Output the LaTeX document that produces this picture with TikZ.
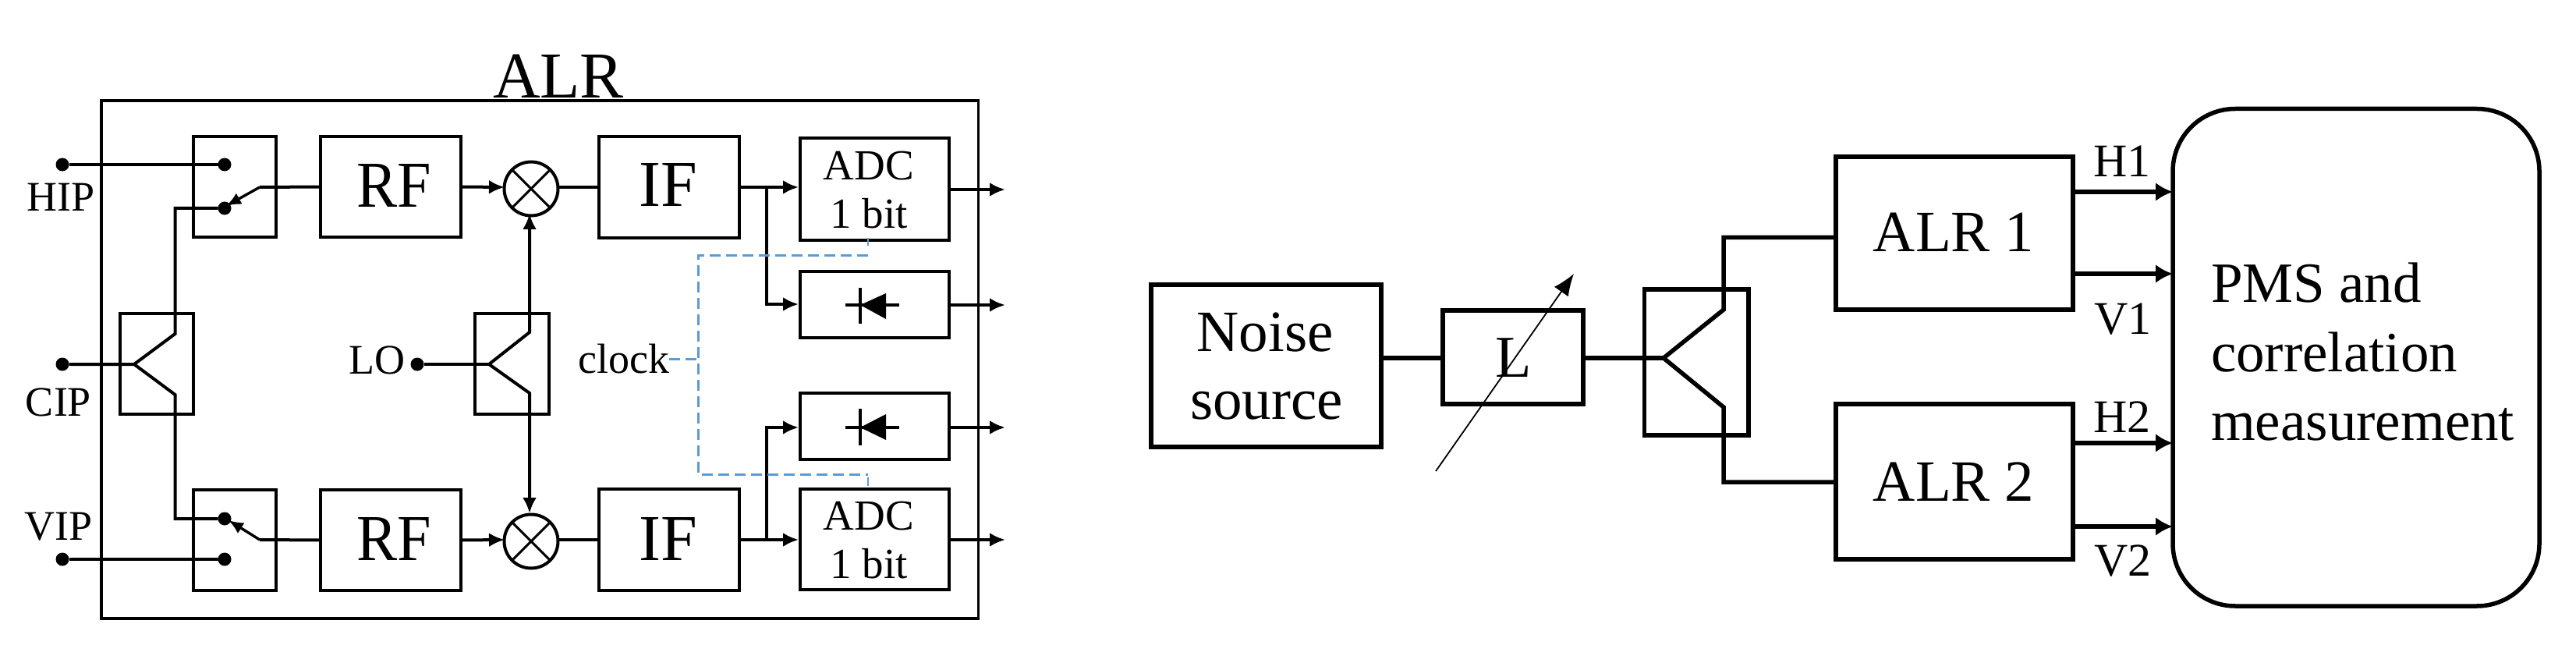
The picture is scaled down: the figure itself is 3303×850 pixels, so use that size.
\documentclass[tikz,border=0pt]{standalone}
\usepackage{fontspec}
\setmainfont{Liberation Serif}
\usetikzlibrary{arrows.meta,calc}
\newcommand{\fsz}[1]{\fontsize{#1pt}{#1pt}\selectfont}
% \bxn{name}{x1}{y1}{x2}{y2}{style}
\newcommand{\bxn}[6]{%
  \pgfmathsetmacro{\bw}{#4-#2}\pgfmathsetmacro{\bh}{#5-#3}%
  \pgfmathsetmacro{\bx}{(#2+#4)/2}\pgfmathsetmacro{\by}{(#3+#5)/2}%
  \node[#6,minimum width=\bw pt,minimum height=\bh pt] (#1) at (\bx,\by) {};}
% \tx{name}{x}{baseline}{size}{text}
\newcommand{\tx}[5]{\node[txt,font=\fsz{#4}] (#1) at (#2,#3) {#5};}
\tikzset{
  box/.style={draw=black,line width=4pt,inner sep=0pt,outer sep=0pt,rectangle},
  bigbox/.style={box,line width=5.5pt},
  frame/.style={box,line width=3.2pt},
  txt/.style={anchor=base,inner sep=0pt,outer sep=0pt,text=black},
  wire/.style={draw=black,line width=4pt,line join=miter},
  thick wire/.style={draw=black,line width=5.5pt,line join=miter},
  arr/.style={wire,-{Latex[length=20pt,width=18pt]}},
  sarr/.style={wire,line width=3.4pt,-{Latex[length=19pt,width=16pt]}},
  bigarr/.style={thick wire,-{Latex[length=22pt,width=24pt]}},
  clk/.style={draw=clkblue,line width=3pt,dash pattern=on 14pt off 7pt},
  clksolid/.style={draw=clkblue,line width=2.4pt},
  dot/.style={circle,fill=black,draw=none,inner sep=0pt,outer sep=0pt,minimum size=17pt},
  mixer/.style={circle,draw=black,line width=4pt,inner sep=0pt,outer sep=0pt,minimum size=69pt},
}
\definecolor{clkblue}{HTML}{5B9BD5}
\begin{document}
\begin{tikzpicture}[x=1pt,y=-1pt]
\useasboundingbox (0,0) rectangle (3303,850);

%% ---------- left: ALR ----------
\bxn{frame}{130}{129}{1254.5}{793}{frame}
\tx{alrt}{716}{126}{84}{ALR}

\bxn{sw1}{248}{175}{354}{304}{box}
\bxn{sw2}{248}{628}{354}{757}{box}
\bxn{rf1}{411}{175}{591}{304}{box}
\bxn{rf2}{411}{628}{591}{757}{box}
\tx{rf1t}{505.5}{266}{84}{\scalebox{0.93}[1]{RF}}
\tx{rf2t}{505.5}{718}{84}{\scalebox{0.93}[1]{RF}}
\bxn{if1}{768}{175}{948}{305}{box}
\bxn{if2}{768}{627}{948}{757}{box}
\tx{if1t}{857}{265}{84}{IF}
\tx{if2t}{857}{718}{84}{IF}
\bxn{adc1}{1026}{177}{1217}{308}{box}
\bxn{adc2}{1026}{627}{1217}{756}{box}
\tx{adc1a}{1114}{231}{55}{ADC}
\tx{adc1b}{1114}{293}{55}{1 bit}
\tx{adc2a}{1114}{679}{55}{ADC}
\tx{adc2b}{1114}{741}{55}{1 bit}
\bxn{det1}{1026}{348}{1217}{433}{box}
\bxn{det2}{1026}{504}{1217}{589}{box}
\bxn{spa}{154}{402}{248}{531}{box}
\bxn{spb}{609}{402}{703.5}{531}{box}
\node[mixer] (mix1) at (681,242) {};
\node[mixer] (mix2) at (681,694) {};
\foreach \m in {mix1,mix2}{
  \draw[line width=3pt] (\m.45) -- (\m.225) (\m.135) -- (\m.315);
}

\tx{hip}{78}{271}{54}{HIP}
\tx{cip}{75}{533}{54}{CIP}
\tx{vip}{75}{692}{54}{VIP}
\tx{lo}{483}{479}{54}{LO}
\tx{clockt}{800}{478}{54}{clock}

\node[dot] (dhip) at (80,211) {};
\node[dot] (dcip) at (80,467) {};
\node[dot] (dvip) at (80,717) {};
\node[dot] (dlo) at (535,467) {};
\node[dot] (s1a) at (288,211) {};
\node[dot] (s1b) at (288,267) {};
\node[dot] (s2a) at (288,665) {};
\node[dot] (s2b) at (288,717) {};

\coordinate (p1) at (333,240);
\coordinate (p2) at (333,692);
\coordinate (p1t) at (290,264);
\coordinate (p2t) at (293,667);
\coordinate (apa) at (172,467);
\coordinate (apau) at (224.5,428);
\coordinate (apad) at (224.5,506);
\coordinate (apb) at (627,467);
\coordinate (apbu) at (679,426);
\coordinate (apbd) at (679,504);
\coordinate (m1tip) at (679,274);
\coordinate (m2tip) at (679,658);

\draw[wire] (dhip) -- (s1a);
\draw[wire] (dvip) -- (s2b);
\draw[wire] (dcip) -- (apa) -- (apau) |- (s1b);
\draw[wire] (apa) -- (apad) |- (s2a);
\draw[wire] (dlo) -- (apb);
\draw[wire] (rf1.west) -- (p1);
\draw[wire] (rf2.west) -- (p2);
\draw[sarr] (p1) -- (p1t);
\draw[sarr] (p2) -- (p2t);
\draw[arr] (rf1.east) -- (647,240);
\draw[arr] (rf2.east) -- (647,692);
\draw[arr] (apb) -- (apbu) -- (m1tip);
\draw[arr] (apb) -- (apbd) -- (m2tip);
\draw[wire] (717,240) -- (if1.west |- 0,240);
\draw[wire] (717,692) -- (if2.west |- 0,692);
\draw[arr] (if1.east |- 0,240) -- (1024,240);
\draw[arr] (if2.east |- 0,692) -- (1024,692);
\coordinate (b1) at (983,240);
\coordinate (b2) at (983,692);
\draw[arr] (b1) |- (1024,390);
\draw[arr] (b2) |- (1024,548);
\draw[arr] (1215,243) -- (1289,243) coordinate (o1);
\draw[arr] (1215,391) -- (1289,391) coordinate (o2);
\draw[arr] (1215,548) -- (1289,548) coordinate (o3);
\draw[arr] (1215,692) -- (1289,692) coordinate (o4);

% diodes
\draw[wire] (1084,391) -- (1153,391);
\draw[line width=3.2pt] (1103,369) -- (1103,415);
\fill (1103,391) -- (1136,376) -- (1136,409) -- cycle;
\draw[wire] (1084,548) -- (1153,548);
\draw[line width=3.2pt] (1103,524) -- (1103,571);
\fill (1103,548) -- (1136,531) -- (1136,564) -- cycle;

% clock
\coordinate (ck1) at (1113,327);
\coordinate (ck2) at (1113,608);
\coordinate (ck3) at (895,327);
\coordinate (ck4) at (895,608);
\coordinate (ck5) at (895,460);
\draw[clk] (ck1) -- (ck3) -- (ck4) -- (ck2);
\draw[clk] (clockt.base east |- ck5) -- (ck5);
\draw[clksolid] (1113,305) -- (1113,315);
\draw[clksolid] (1113,612) -- (1113,623);

%% ---------- right ----------
\bxn{noise}{1476}{365}{1771}{573}{bigbox}
\tx{noisea}{1622}{450}{75}{Noise}
\tx{noiseb}{1624}{537}{75}{source}
\bxn{lbox}{1850}{398}{2030}{518}{bigbox}
\tx{lt}{1941}{483}{76}{L}
\bxn{spc}{2108.5}{371}{2242}{558}{bigbox}
\bxn{alr1}{2354}{201}{2658}{397}{bigbox}
\bxn{alr2}{2354}{518}{2658}{717}{bigbox}
\tx{alr1t}{2505}{323}{75}{ALR 1}
\tx{alr2t}{2505}{642}{75}{ALR 2}
\node[box,line width=5.5pt,rounded corners=80pt,minimum width=470pt,minimum height=637.5pt] (pms) at (3021,458.25) {};
\tx{pmsa}{2835}{387}{73}{\makebox[0pt][l]{PMS and}}
\tx{pmsb}{2835}{476}{73}{\makebox[0pt][l]{correlation}}
\tx{pmsc}{2835}{564}{73}{\makebox[0pt][l]{measurement}}
\tx{h1}{2721}{227}{60}{H1}
\tx{v1}{2722}{428}{60}{V1}
\tx{h2}{2721}{554}{60}{H2}
\tx{v2}{2722}{738}{60}{V2}

\coordinate (apc) at (2133,459);
\coordinate (apcu) at (2210,397);
\coordinate (apcd) at (2210,522);
\coordinate (a1in) at (2354,304.5);
\coordinate (a2in) at (2354,618);
\draw[thick wire] (noise.east |- apc) -- (lbox.west |- apc);
\draw[thick wire] (lbox.east |- apc) -- (apc);
\draw[thick wire] (apc) -- (apcu) |- (a1in);
\draw[thick wire] (apc) -- (apcd) |- (a2in);
\draw[bigarr] (alr1.east |- 0,246) -- (pms.west |- 0,246);
\draw[bigarr] (alr1.east |- 0,351) -- (pms.west |- 0,351);
\draw[bigarr] (alr2.east |- 0,568) -- (pms.west |- 0,568);
\draw[bigarr] (alr2.east |- 0,675) -- (pms.west |- 0,675);
\coordinate (la) at (1841,604);
\coordinate (lb) at (2018,351);
\draw[line width=1.8pt,-{Latex[length=28pt,width=22pt]}] (la) -- (lb);
\end{tikzpicture}
\end{document}
